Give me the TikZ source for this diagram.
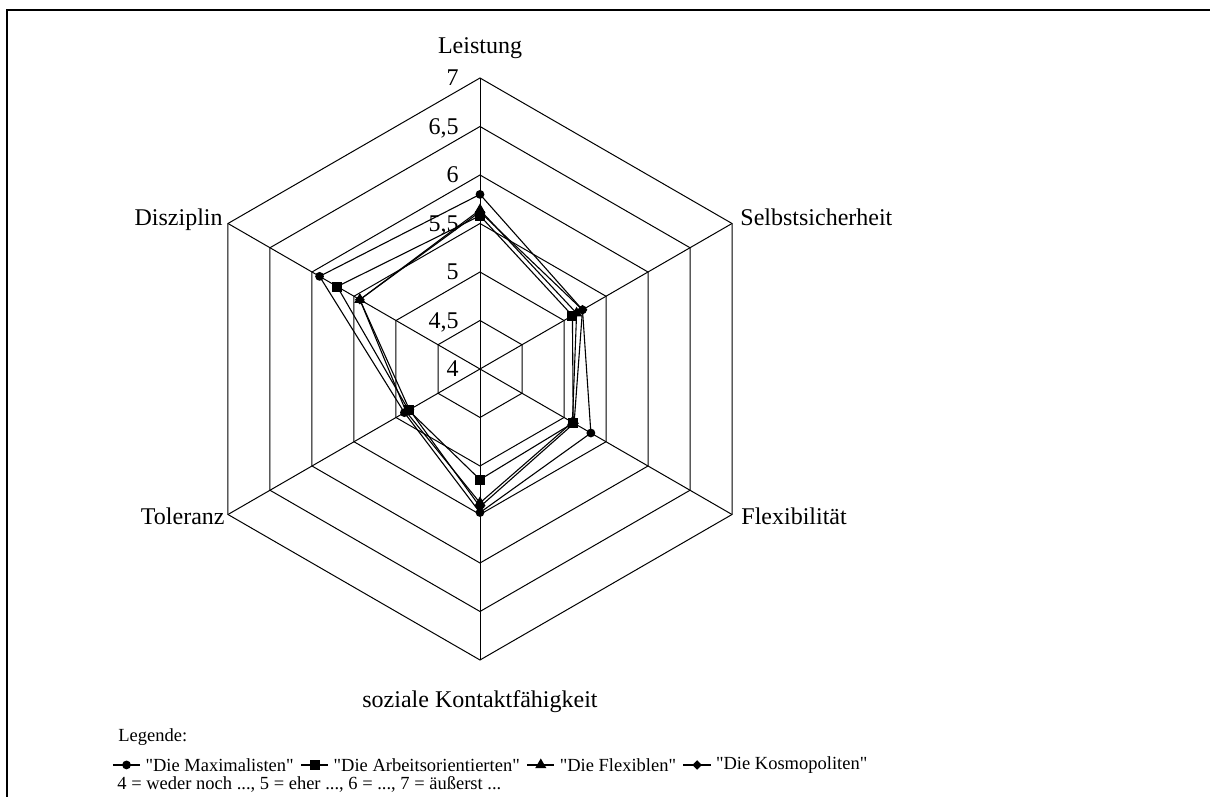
\documentclass[tikz,border=0pt]{standalone}
\usepackage{fontspec}
\setmainfont{Liberation Serif}[Ligatures=TeXOff]
\usetikzlibrary{positioning,shapes.geometric}

\tikzset{
  gridline/.style={line width=0.5pt},
  series/.style={line width=0.55pt},
  axislabel/.style={font=\fontsize{12}{14}\selectfont, inner sep=0pt},
  ticklabel/.style={font=\fontsize{12}{14}\selectfont, inner sep=0pt, anchor=east, text depth=0pt},
  legendtext/.style={font=\fontsize{9.25}{11}\selectfont, inner sep=0pt},
  mkcircle/.style={circle, fill=black, inner sep=0pt, minimum size=4.4pt},
  mksquare/.style={rectangle, fill=black, inner sep=0pt, minimum size=5pt},
  mktriangle/.style={regular polygon, regular polygon sides=3, fill=black, inner sep=0pt, minimum size=6.5pt},
  mkdiamond/.style={diamond, fill=black, inner sep=0pt, minimum size=5pt}
}

\begin{document}
\begin{tikzpicture}[x=48.5pt,y=48.5pt]
    \useasboundingbox (-4.9485,-4.4124) rectangle (7.5258,3.8041);

    % Frame
    \draw[line width=1.1pt] (-4.876,-4.6) -- (-4.876,3.701) -- (7.7,3.701);

    % Rings
    \foreach \r in {0.5,1,...,3}
      \draw[gridline] (90:\r) -- (30:\r) -- (-30:\r) -- (-90:\r) -- (210:\r) -- (150:\r) -- cycle;

    % Axes
    \coordinate (c) at (0,0);
    \coordinate (v1) at (90:3);
    \coordinate (v2) at (30:3);
    \coordinate (v3) at (-30:3);
    \coordinate (v4) at (-90:3);
    \coordinate (v5) at (210:3);
    \coordinate (v6) at (150:3);
    \foreach \v in {v1,v2,v3,v4,v5,v6}
      \draw[gridline] (c) -- (\v);

    % Scale
    \node[ticklabel] (s40) at (-0.216,0)   {4};
    \node[ticklabel] (s45) at (-0.216,0.5) {4,5};
    \node[ticklabel] (s50) at (-0.216,1)   {5};
    \node[ticklabel] (s55) at (-0.216,1.5) {5,5};
    \node[ticklabel] (s60) at (-0.216,2)   {6};
    \node[ticklabel] (s65) at (-0.216,2.5) {6,5};
    \node[ticklabel] (s70) at (-0.216,3)   {7};

    % Axis labels
    \node[axislabel, above=9.5pt of v1] (leistung) {Leistung};
    \node[axislabel, anchor=base west] (selbst) at ([xshift=4pt,yshift=-1.25pt]v2) {Selbstsicherheit};
    \node[axislabel, anchor=base west] (flexi) at ([xshift=4.5pt,yshift=-5.25pt]v3) {Flexibilität};
    \node[axislabel, below=15pt of v4] (sozial) {soziale Kontaktfähigkeit};
    \node[axislabel, anchor=base east] (toleranz) at ([xshift=-1.5pt,yshift=-5.25pt]v5) {Toleranz};
    \node[axislabel, anchor=base east] (disziplin) at ([xshift=-2.5pt,yshift=-1.25pt]v6) {Disziplin};

    % "Die Maximalisten"
    \draw[series] (90:1.80) -- (30:1.22) -- (-30:1.32) -- (-90:1.48) -- (210:0.90) -- (150:1.91) -- cycle;
    \foreach \a/\r in {90/1.80,30/1.22,-30/1.32,-90/1.48,210/0.90,150/1.91}
      \node[mkcircle] at (\a:\r) {};

    % "Die Flexiblen"
    \draw[series] (90:1.64) -- (30:1.15) -- (-30:1.10) -- (-90:1.38) -- (210:0.88) -- (150:1.43) -- cycle;
    \foreach \a/\r in {90/1.64,30/1.15,-30/1.10,-90/1.38,210/0.88,150/1.43}
      \node[mktriangle] at (\a:\r) {};

    % "Die Kosmopoliten"
    \draw[series] (90:1.62) -- (30:1.22) -- (-30:1.12) -- (-90:1.42) -- (210:0.84) -- (150:1.43) -- cycle;
    \foreach \a/\r in {90/1.62,30/1.22,-30/1.12,-90/1.42,210/0.84,150/1.43}
      \node[mkdiamond] at (\a:\r) {};

    % "Die Arbeitsorientierten"
    \draw[series] (90:1.58) -- (30:1.10) -- (-30:1.11) -- (-90:1.14) -- (210:0.85) -- (150:1.70) -- cycle;
    \foreach \a/\r in {90/1.58,30/1.10,-30/1.11,-90/1.14,210/0.85,150/1.70}
      \node[mksquare] at (\a:\r) {};

    % Legend
    \node[legendtext, anchor=west] (legende) at (-3.732,-3.794) {Legende:};
    \coordinate (k1) at (-3.784,-4.082);
    \draw[series] (k1) -- ++(0.28,0) node[midway, mkcircle] {} coordinate (k1e);
    \node[legendtext, right=2.5pt of k1e] (t1) {"Die Maximalisten"};
    \draw[series] ([xshift=3.5pt]t1.east) -- ++(0.28,0) node[midway, mksquare] {} coordinate (k2e);
    \node[legendtext, right=2.5pt of k2e] (t2) {"Die Arbeitsorientierten"};
    \draw[series] ([xshift=3.5pt]t2.east) -- ++(0.28,0) node[midway, mktriangle] {} coordinate (k3e);
    \node[legendtext, right=2.5pt of k3e] (t3) {"Die Flexiblen"};
    \draw[series] ([xshift=3.5pt]t3.east) -- ++(0.28,0) node[midway, mkdiamond] {} coordinate (k4e);
    \node[legendtext, right=2.5pt of k4e] (t4) {"Die Kosmopoliten"};
    \node[legendtext, anchor=west] (skala) at (-3.742,-4.278) {4 = weder noch ..., 5 = eher ..., 6 = ..., 7 = äußerst ...};
\end{tikzpicture}
\end{document}
